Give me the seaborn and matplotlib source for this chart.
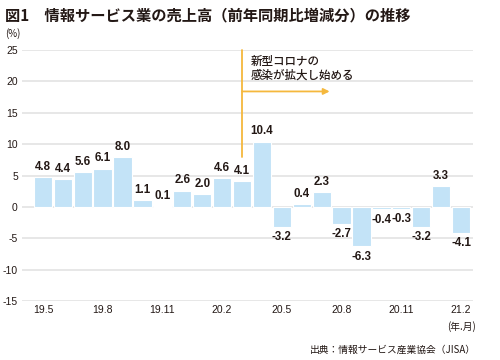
import pandas as pd
import seaborn as sns
import matplotlib.pyplot as plt

# data: 前年同期比増減分 (%), 2019.5 - 2021.2
months = ["19.5", "19.6", "19.7", "19.8", "19.9", "19.10", "19.11", "19.12",
          "20.1", "20.2", "20.3", "20.4", "20.5", "20.6", "20.7", "20.8",
          "20.9", "20.10", "20.11", "20.12", "21.1", "21.2"]
values = [4.8, 4.4, 5.6, 6.1, 8.0, 1.1, 0.1, 2.6, 2.0, 4.6, 4.1, 10.4,
          -3.2, 0.4, 2.3, -2.7, -6.3, -0.4, -0.3, -3.2, 3.3, -4.1]
tick_labels = ["19.5", "19.8", "19.11", "20.2", "20.5", "20.8", "20.11", "21.2"]
y_ticks = [-15, -10, -5, 0, 5, 10, 15, 20, 25]

df = pd.DataFrame({"month": months, "value": values})

sns.set_style("white")
plt.rcParams['font.family'] = ['Noto Sans CJK JP', 'DejaVu Sans']
num_font = ['Liberation Sans', 'DejaVu Sans']
ink = "#231815"

fig = plt.figure(figsize=(5, 3.6), dpi=100)
ax = fig.add_axes([0.044, 0.164, 0.902, 0.697])

sns.barplot(data=df, x="month", y="value", order=months, color="#c3e3f7",
            saturation=1, width=0.92, edgecolor="white", linewidth=0.8, ax=ax)

# value labels
for i, v in enumerate(values):
    if v >= 0:
        ax.annotate(f"{v:.1f}", (i, v), xytext=(0, 3), textcoords="offset points",
                    ha="center", va="bottom", fontsize=8.3, fontweight="bold",
                    family=num_font, color=ink)
    else:
        ax.annotate(f"{v:.1f}", (i, v), xytext=(0, -3), textcoords="offset points",
                    ha="center", va="top", fontsize=8.3, fontweight="bold",
                    family=num_font, color=ink)

ax.set_ylim(-15, 25)
ax.set_xlim(-1.05, 21.6)
ax.set_yticks(y_ticks)
ax.set_yticklabels([str(t) for t in y_ticks], fontsize=7.5, family=num_font, color=ink)
ax.set_xticks(range(0, 22, 3))
ax.set_xticklabels(tick_labels, fontsize=7.5, family=num_font, color=ink)
ax.tick_params(length=0, pad=3)
ax.yaxis.grid(True, color="#e3e3e3", linewidth=1.2)
ax.set_axisbelow(True)
for s in ax.spines.values():
    s.set_visible(False)
ax.set_xlabel("")
ax.set_ylabel("")

# 新型コロナ annotation
orange = "#f5b83d"
ax.plot([10, 10], [25, 7.9], color=orange, lw=1.3, clip_on=False)
ax.annotate("", xy=(14.4, 18.4), xytext=(10, 18.4),
            arrowprops=dict(arrowstyle="-|>", color=orange, lw=1.3,
                            mutation_scale=9, shrinkA=0, shrinkB=0))
ax.text(10.45, 23.2, "新型コロナの", fontsize=8.3, fontweight="medium",
        va="center", ha="left", color=ink)
ax.text(10.45, 21.0, "感染が拡大し始める", fontsize=8.3, fontweight="medium",
        va="center", ha="left", color=ink)

# titles and notes
fig.text(0.01, 0.958, "図1　情報サービス業の売上高（前年同期比増減分）の推移",
         fontsize=11, fontweight="bold", va="center", ha="left", color=ink)
fig.text(0.01, 0.908, "(%)", fontsize=7, va="center", ha="left", color=ink)
fig.text(0.952, 0.094, "(年.月)", fontsize=7, va="center", ha="right", color=ink)
fig.text(0.952, 0.028, "出典：情報サービス産業協会（JISA）", fontsize=7,
         va="center", ha="right", color=ink)

fig.savefig("out.png", dpi=100)
